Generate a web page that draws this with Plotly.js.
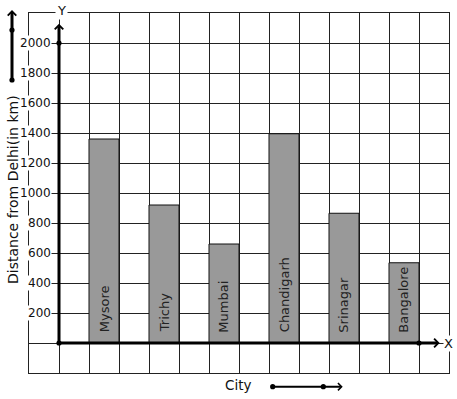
<!DOCTYPE html>
<html>
<head>
<meta charset="utf-8">
<script src="https://cdn.plot.ly/plotly-3.0.1.min.js"></script>
<style>html,body{margin:0;padding:0;background:#fff;}#chart{width:457px;height:399px;}</style>
</head>
<body>
<div id="chart"></div>
<script>
// ---- data ----
const cities = ['Mysore', 'Trichy', 'Mumbai', 'Chandigarh', 'Srinagar', 'Bangalore'];
const distances = [1360, 920, 660, 1395, 865, 535];
const yTickValues = [200, 400, 600, 800, 1000, 1200, 1400, 1600, 1800, 2000];
const yTickLabels = ['200', '400', '600', '800', '1000', '1200', '1400', '1600', '1800', '2000'];
const xTitle = 'City';
const yTitle = 'Distance from Delhi(in km)';

// ---- layout helpers ----
const FONT = 'DejaVu Sans, sans-serif';
const barX = cities.map((c, i) => 1.5 + 2 * i);
const PL = 29, PT = 13, PW = 420, PH = 360;
const px2paperX = px => (px - PL) / PW;
const px2paperY = py => (PT + PH - py) / PH;

const trace = {
  type: 'bar',
  x: barX,
  y: distances,
  width: 1,
  marker: {color: '#999999', line: {color: '#111111', width: 1}},
  hoverinfo: 'skip'
};

const annotations = [];
// y tick labels with white background
yTickValues.forEach((v, i) => {
  annotations.push({
    x: -0.25, y: v, xref: 'x', yref: 'y', text: yTickLabels[i],
    showarrow: false, xanchor: 'right', yanchor: 'middle',
    bgcolor: '#ffffff', borderpad: 0,
    font: {family: FONT, size: 12, color: '#111'}
  });
});
// city labels inside bars
cities.forEach((c, i) => {
  annotations.push({
    x: barX[i], y: 62, xref: 'x', yref: 'y', text: c,
    showarrow: false, textangle: -90, xanchor: 'center', yanchor: 'bottom',
    borderpad: 0, font: {family: FONT, size: 13, color: '#222'}
  });
});
// axis arrows
annotations.push({x: 0, y: 2128, xref: 'x', yref: 'y', ax: 0, ay: 0, axref: 'x', ayref: 'y',
  text: '', showarrow: true, arrowhead: 4, arrowsize: 0.55, arrowwidth: 3, arrowcolor: '#000'});
annotations.push({x: 12.69, y: 0, xref: 'x', yref: 'y', ax: 0, ay: 0, axref: 'x', ayref: 'y',
  text: '', showarrow: true, arrowhead: 4, arrowsize: 0.55, arrowwidth: 3, arrowcolor: '#000'});
// axis letters
annotations.push({x: px2paperX(61), y: px2paperY(10), xref: 'paper', yref: 'paper', text: 'Y',
  showarrow: false, xanchor: 'center', yanchor: 'middle',
  bgcolor: '#ffffff', borderpad: 1, font: {family: FONT, size: 13, color: '#111'}});
annotations.push({x: 12.97, y: 0, xref: 'x', yref: 'y', text: 'X', showarrow: false,
  xanchor: 'center', yanchor: 'middle',
  bgcolor: '#ffffff', borderpad: 0, font: {family: FONT, size: 13, color: '#111'}});
// decorative arrows outside plot
annotations.push({x: px2paperX(12), y: px2paperY(10), xref: 'paper', yref: 'paper', ax: 0, ay: 70,
  text: '', showarrow: true, arrowhead: 4, arrowsize: 0.55, arrowwidth: 3, arrowcolor: '#000'});
annotations.push({x: px2paperX(342.7), y: px2paperY(386.7), xref: 'paper', yref: 'paper', ax: -70, ay: 0,
  text: '', showarrow: true, arrowhead: 4, arrowsize: 0.7, arrowwidth: 2, arrowcolor: '#000'});
// titles
annotations.push({x: px2paperX(238), y: px2paperY(385), xref: 'paper', yref: 'paper', text: xTitle,
  showarrow: false, xanchor: 'center', yanchor: 'middle',
  font: {family: FONT, size: 13.5, color: '#111'}});
annotations.push({x: px2paperX(13), y: px2paperY(190), xref: 'paper', yref: 'paper', text: yTitle,
  showarrow: false, textangle: -90, xanchor: 'center', yanchor: 'middle',
  font: {family: FONT, size: 14, color: '#111'}});

function dotData(x, y) {
  return {type: 'circle', xref: 'x', yref: 'y', xsizemode: 'pixel', ysizemode: 'pixel',
    xanchor: x, yanchor: y, x0: -2.6, x1: 2.6, y0: -2.6, y1: 2.6,
    fillcolor: '#000', line: {width: 0}, layer: 'above'};
}
function dotPaper(px, py) {
  return {type: 'circle', xref: 'paper', yref: 'paper', xsizemode: 'pixel', ysizemode: 'pixel',
    xanchor: px2paperX(px), yanchor: px2paperY(py), x0: -2.6, x1: 2.6, y0: -2.6, y1: 2.6,
    fillcolor: '#000', line: {width: 0}, layer: 'above'};
}
const shapes = [
  dotData(0, 0), dotData(0, 2000), dotData(12, 0),
  dotPaper(12, 30), dotPaper(12, 80),
  dotPaper(272.7, 386.7), dotPaper(323.3, 386.7)
];

const layout = {
  width: 457, height: 399,
  margin: {l: PL, r: 457 - PL - PW, t: PT, b: 399 - PT - PH, pad: 0},
  paper_bgcolor: '#ffffff', plot_bgcolor: '#ffffff',
  showlegend: false,
  font: {family: FONT},
  xaxis: {range: [-1, 13], dtick: 1, tick0: 0, showgrid: true, gridcolor: '#222', gridwidth: 1,
    zeroline: false, showticklabels: false, ticks: '', showline: true, mirror: true,
    linecolor: '#222', linewidth: 1, fixedrange: true},
  yaxis: {range: [-200, 2200], dtick: 200, tick0: 0, showgrid: true, gridcolor: '#222', gridwidth: 1,
    zeroline: false, showticklabels: false, ticks: '', showline: true, mirror: true,
    linecolor: '#222', linewidth: 1, fixedrange: true},
  annotations: annotations,
  shapes: shapes
};

Plotly.newPlot('chart', [trace], layout, {displayModeBar: false, staticPlot: true});
</script>
</body>
</html>
